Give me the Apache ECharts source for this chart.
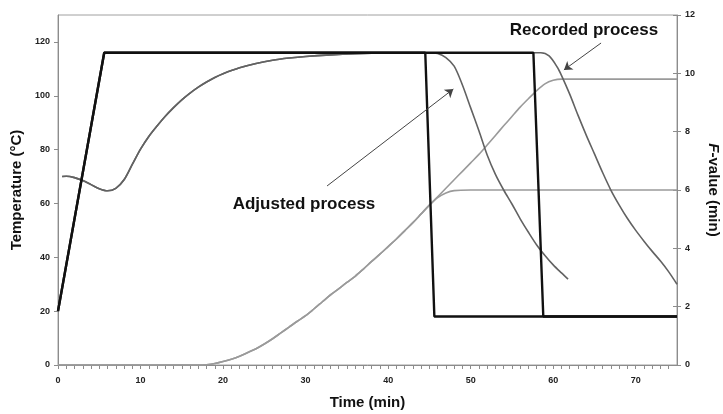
<!DOCTYPE html>
<html>
<head>
<meta charset="utf-8">
<script src="https://cdn.jsdelivr.net/npm/echarts@6/dist/echarts.min.js"></script>
<style>
  html, body { margin: 0; padding: 0; background: #fff; }
  #chart { width: 723px; height: 414px; }
</style>
</head>
<body>
<div id="chart"></div>
<script>
// Axis tick values
const timeTicks = [0, 10, 20, 30, 40, 50, 60, 70];
const tempTicks = [0, 20, 40, 60, 80, 100, 120];
const fTicks = [0, 2, 4, 6, 8, 10, 12];

// Retort temperature profiles (°C) vs time (min)
const retortAdjusted = [[0, 20], [5.6, 116], [44.5, 116], [45.6, 18], [75, 18]];
const retortRecorded = [[0, 20], [5.6, 116], [57.6, 116], [58.8, 18], [75, 18]];

// Product temperature during come-up and holding (°C)
const coreHeating = [
  [0.5, 70], [1, 70.1], [2, 69.6], [3, 68.5], [4, 67], [5, 65.5], [6, 64.7], [7, 65.6],
  [8, 68.8], [9, 74.5], [10, 80.2], [11, 84.9], [12, 88.8], [13, 92.4], [14, 95.6],
  [15, 98.5], [16, 101], [17, 103.2], [18, 105.1], [19, 106.8], [20, 108.2], [22, 110.4],
  [24, 112], [26, 113.2], [28, 114], [30, 114.6], [33, 115.2], [36, 115.6], [40, 115.9],
  [44, 116], [45, 116]
];
// Product temperature during cooling, adjusted process (°C)
const coreCoolAdjusted = [
  [46, 115.7], [47, 114.2], [48, 111], [49, 104], [50, 95.5], [51, 87], [52, 78],
  [53, 70.8], [54, 65], [55, 59.8], [56, 54.3], [57, 49.3], [58, 44.6], [59, 40.7],
  [60, 37.2], [61, 34.2], [61.8, 31.9]
];
// Product temperature during cooling, recorded process (°C)
const coreCoolRecorded = [
  [50, 116], [58.5, 116], [59.5, 114.8], [60.5, 110.6], [61, 107.6], [62, 100.6],
  [63, 92.8], [64, 85.4], [65, 78.4], [66, 71.4], [67, 64.9], [68, 59.4], [69, 54.4],
  [70, 50], [71, 46], [72, 42.2], [73, 38.6], [74, 34.6], [75, 30]
];

// Accumulated F-value (min)
const fRise = [
  [0, 0], [17, 0], [18, 0.01], [19, 0.05], [20, 0.12], [21, 0.2], [22, 0.3], [23, 0.43],
  [24, 0.56], [25, 0.72], [26, 0.9], [27, 1.1], [28, 1.3], [29, 1.5], [30, 1.69],
  [31, 1.92], [32, 2.16], [33, 2.4], [34, 2.61], [35, 2.83], [36, 3.04], [37, 3.29],
  [38, 3.55], [39, 3.8], [40, 4.06], [41, 4.32], [42, 4.6], [43, 4.88], [44, 5.18], [45, 5.48]
];
const fTailAdjusted = [[46, 5.74], [47, 5.9], [48, 5.98], [50, 6.0], [75, 6.0]];
const fTailRecorded = [
  [46, 5.77], [47, 6.06], [48, 6.35], [49, 6.64], [50, 6.93], [51, 7.22], [52, 7.54],
  [53, 7.87], [54, 8.2], [55, 8.52], [56, 8.84], [57, 9.13], [58, 9.41], [59, 9.64],
  [60, 9.76], [61, 9.8], [75, 9.8]
];

const axisGrey = '#8c8c8c';
const labelFont = { fontFamily: 'Liberation Sans, Arial, sans-serif', fontWeight: 'bold', color: '#222', fontSize: 9 };
const titleFont = { fontFamily: 'Liberation Sans, Arial, sans-serif', fontWeight: 'bold', color: '#111', fontSize: 15 };
const noteFont = 'bold 17px "Liberation Sans", Arial, sans-serif';

const chart = echarts.init(document.getElementById('chart'), null, { renderer: 'canvas' });

function grayLine(data, color, yAxisIndex) {
  return {
    type: 'line', data: data, yAxisIndex: yAxisIndex, symbol: 'none', smooth: 0.3,
    lineStyle: { color: color, width: 1.6 }, z: 2
  };
}

chart.setOption({
  animation: false,
  backgroundColor: '#fff',
  grid: {
    left: 58, right: 46, top: 15, bottom: 49, outerBoundsMode: 'none', containLabel: false,
    show: true, borderColor: '#a0a0a0', borderWidth: 1
  },
  xAxis: {
    type: 'value', min: 0, max: 75, interval: 10,
    name: 'Time (min)', nameLocation: 'middle', nameGap: 30, nameTextStyle: titleFont,
    axisLine: { lineStyle: { color: axisGrey, width: 1 } },
    axisTick: { show: true, length: 4, customValues: timeTicks, lineStyle: { color: axisGrey } },
    minorTick: { show: true, splitNumber: 10, length: 4, lineStyle: { color: axisGrey } },
    axisLabel: Object.assign({ margin: 11, customValues: timeTicks }, labelFont),
    splitLine: { show: false }
  },
  yAxis: [
    {
      type: 'value', min: 0, max: 130, position: 'left',
      name: 'Temperature (°C)', nameLocation: 'middle', nameGap: 30, nameRotate: 90, nameTextStyle: titleFont,
      axisLine: { show: true, lineStyle: { color: axisGrey } },
      axisTick: { show: true, length: 4, customValues: tempTicks, lineStyle: { color: axisGrey } },
      axisLabel: Object.assign({ margin: 8, customValues: tempTicks }, labelFont),
      splitLine: { show: false }
    },
    {
      type: 'value', min: 0, max: 12, position: 'right',
      name: '{i|F}-value (min)', nameLocation: 'middle', nameGap: 19, nameRotate: -90,
      nameTextStyle: Object.assign({ rich: { i: Object.assign({}, titleFont, { fontStyle: 'italic' }) } }, titleFont),
      axisLine: { show: true, lineStyle: { color: axisGrey } },
      axisTick: { show: true, length: 4, customValues: fTicks, lineStyle: { color: axisGrey } },
      axisLabel: Object.assign({ margin: 8, customValues: fTicks }, labelFont),
      splitLine: { show: false }
    },
    {
      // inner half of the right-hand crossing ticks
      type: 'value', min: 0, max: 12, position: 'right',
      axisLine: { show: false },
      axisTick: { show: true, inside: true, length: 4, customValues: fTicks, lineStyle: { color: axisGrey } },
      axisLabel: { show: false },
      splitLine: { show: false }
    }
  ],
  series: [
    grayLine(fRise.concat(fTailAdjusted), '#9a9a9a', 1),
    grayLine(fRise.concat(fTailRecorded), '#9a9a9a', 1),
    grayLine(coreHeating.concat(coreCoolRecorded), '#626262', 0),
    Object.assign(grayLine(coreHeating.concat(coreCoolAdjusted), '#626262', 0), {
      markLine: {
        silent: true, symbol: ['none', 'arrow'], symbolSize: 8,
        label: { show: false },
        emphasis: { disabled: true },
        lineStyle: { color: '#444', width: 1, type: 'solid' },
        data: [
          [{ coord: [32.6, 66.5] }, { coord: [47.9, 102.5] }],
          [{ coord: [65.8, 119.6] }, { coord: [61.3, 109.6] }]
        ]
      }
    }),
    { type: 'line', data: retortRecorded, yAxisIndex: 0, symbol: 'none', lineStyle: { color: '#111', width: 2.4 }, z: 3 },
    { type: 'line', data: retortAdjusted, yAxisIndex: 0, symbol: 'none', lineStyle: { color: '#111', width: 2.4 }, z: 3 }
  ],
  graphic: [
    { type: 'text', x: 304, y: 204, style: { text: 'Adjusted process', textAlign: 'center', textVerticalAlign: 'middle', font: noteFont, fill: '#111' } },
    { type: 'text', x: 584, y: 30, style: { text: 'Recorded process', textAlign: 'center', textVerticalAlign: 'middle', font: noteFont, fill: '#111' } }
  ]
});
</script>
</body>
</html>
